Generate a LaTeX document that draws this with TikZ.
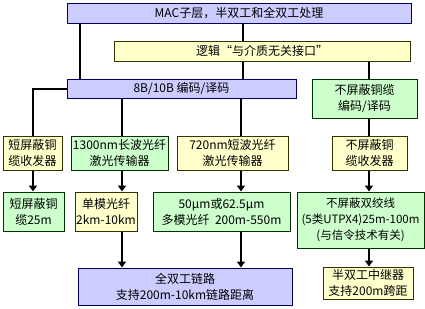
\documentclass[tikz,border=0pt]{standalone}
\usepackage{fontspec}
\setmainfont{Noto Sans CJK SC}
\usetikzlibrary{arrows.meta}
\definecolor{bfill}{HTML}{CCCCFF}
\definecolor{bdraw}{HTML}{000066}
\definecolor{yfill}{HTML}{FFFFCC}
\definecolor{ydraw}{HTML}{333300}
\definecolor{gfill}{HTML}{CCFFCC}
\definecolor{gdraw}{HTML}{003300}
\tikzset{
  basebox/.style={rectangle, inner sep=0pt, align=center, line width=1pt,
    font=\fontsize{12}{16}\selectfont, text=black},
  bluebox/.style={basebox, fill=bfill, draw=bdraw},
  yelbox/.style={basebox, fill=yfill, draw=ydraw},
  grnbox/.style={basebox, fill=gfill, draw=gdraw},
  conn/.style={line width=2pt, black},
  arr/.style={line width=2pt, black, -{Triangle[width=8pt,length=6pt]}},
}
\begin{document}
\begin{tikzpicture}[x=1pt,y=-1pt]
\useasboundingbox (0,0) rectangle (425,308);
% column coordinates
\coordinate (c33) at (33,0);
\coordinate (c80) at (80,0);
\coordinate (c122) at (122,0);
\coordinate (c241) at (241,0);
\coordinate (c243) at (243,0);
\coordinate (c369) at (369,0);
% boxes
\node[bluebox, minimum width=344, minimum height=20] (mac) at (239,13) {MAC子层，半双工和全双工处理};
\node[yelbox, minimum width=296, minimum height=20] (mii) at (262,51) {逻辑“与介质无关接口”};
\node[bluebox, minimum width=229, minimum height=19] (enc) at (181.5,88.5) {8B/10B 编码/译码};
\node[grnbox, minimum width=105, minimum height=39] (uenc) at (364.5,98.5) {不屏蔽铜缆\\编码/译码};
\node[yelbox, minimum width=59, minimum height=34] (r2a) at (32.5,153) {短屏蔽铜\\缆收发器};
\node[grnbox, minimum width=97, minimum height=34] (r2b) at (119.5,153) {1300nm长波光纤\\激光传输器};
\node[yelbox, minimum width=111, minimum height=34] (r2c) at (232.5,153) {720nm短波光纤\\激光传输器};
\node[yelbox, minimum width=75, minimum height=34] (r2d) at (369.5,153) {不屏蔽铜\\缆收发器};
\node[grnbox, minimum width=61, minimum height=39] (r3a) at (33.5,211.5) {短屏蔽铜\\缆25m};
\node[yelbox, minimum width=62, minimum height=39] (r3b) at (106,211.5) {单模光纤\\2km-10km};
\node[grnbox, minimum width=137, minimum height=39] (r3c) at (221.5,211.5) {50μm或62.5μm\\多模光纤\ \ 200m-550m};
\node[grnbox, minimum width=127, minimum height=56, font=\fontsize{11.5}{16}\selectfont] (r3d) at (360.5,220) {不屏蔽双绞线\\(5类UTPX4)25m-100m\\(与信令技术有关)};
\node[bluebox, minimum width=214, minimum height=37] (bot1) at (185,286.5) {全双工链路\\支持200m-10km链路距离};
\node[yelbox, minimum width=90, minimum height=32] (bot2) at (368,283) {半双工中继器\\支持200m跨距};
% connectors
\draw[conn] (mac.south -| c80) -- (enc.north -| c80);
\draw[conn] (mac.south -| c243) -- (mii.north -| c243);
\draw[conn] (mii.south -| c243) -- (enc.north -| c243);
\draw[conn] (mii.south -| c369) -- (uenc.north -| c369);
\draw[conn] (enc.west) -| (r2a.north -| c33);
\draw[conn] (enc.south -| c122) -- (r2b.north -| c122);
\draw[conn] (enc.south -| c241) -- (r2c.north -| c241);
\draw[conn] (uenc.south -| c369) -- (r2d.north -| c369);
\draw[arr] (r2a.south -| c33) -- (r3a.north -| c33);
\draw[arr] (r2b.south -| c122) -- (r3b.north -| c122);
\draw[arr] (r2c.south -| c241) -- (r3c.north -| c241);
\draw[arr] (r2d.south -| c369) -- (r3d.north -| c369);
\draw[arr] (r3b.south -| c122) -- (bot1.north -| c122);
\draw[arr] (r3c.south -| c241) -- (bot1.north -| c241);
\draw[arr] (r3d.south -| c369) -- (bot2.north -| c369);
\end{tikzpicture}
\end{document}
